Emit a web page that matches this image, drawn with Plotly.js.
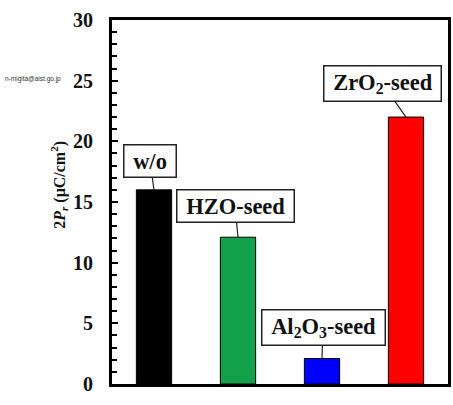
<!DOCTYPE html>
<html><head><meta charset="utf-8">
<script src="https://cdn.plot.ly/plotly-3.0.1.min.js"></script>
<style>html,body{margin:0;padding:0;background:#fff}#c{width:453px;height:405px}</style>
</head><body><div id="c"></div>
<script>
const categories = ["w/o", "HZO-seed", "Al2O3-seed", "ZrO2-seed"];
const values = [16.0, 12.1, 2.1, 22.0];
const colors = ["#000000", "#12a04a", "#0000ff", "#ff0000"];
const labels = ["w/o", "HZO-seed", "Al<sub>2</sub>O<sub>3</sub>-seed", "ZrO<sub>2</sub>-seed"];
const labelOffsets = [[-4, -29], [-3, -31], [1, -31], [-24, -34]];
const yTicks = [0, 5, 10, 15, 20, 25, 30];
const yTitle = "<b>2<i>P</i><sub><i>r</i></sub> (μC/cm<sup>2</sup>)</b>";

const font = "Liberation Serif, Times New Roman, serif";
const trace = {
  type: "bar", x: categories, y: values,
  marker: {color: colors, line: {color: "#000", width: 1}},
  width: 0.42, hoverinfo: "none"
};
const annotations = categories.map((c, i) => ({
  x: c, y: values[i], xref: "x", yref: "y",
  text: "<b>&nbsp;" + labels[i] + "&nbsp;</b>",
  showarrow: true, arrowhead: 0, arrowwidth: 1.2, arrowcolor: "#222",
  ax: labelOffsets[i][0], ay: labelOffsets[i][1],
  font: {family: font, size: 22.5, color: "#111"},
  bordercolor: "#222", borderwidth: 1.5, borderpad: 3, bgcolor: "#fff"
}));
annotations.push({
  xref: "paper", yref: "paper", x: -0.158, y: 0.547, xanchor: "center", yanchor: "middle",
  text: yTitle, textangle: -90, showarrow: false,
  font: {family: font, size: 16, color: "#111"}
});
annotations.push({
  xref: "paper", yref: "paper", x: -0.235, y: 0.838, xanchor: "center", yanchor: "middle",
  text: "n-migita@aist.go.jp", showarrow: false,
  font: {family: "Liberation Sans, Arial, sans-serif", size: 6.5, color: "#333"}
});
const layout = {
  width: 453, height: 405,
  margin: {l: 112, r: 5, t: 20, b: 21},
  paper_bgcolor: "#fff", plot_bgcolor: "#fff",
  showlegend: false,
  bargap: 0.58,
  xaxis: {
    showticklabels: false, ticks: "", showgrid: false, zeroline: false,
    showline: true, linecolor: "#000", linewidth: 3, mirror: true
  },
  yaxis: {
    range: [0, 30], tickvals: yTicks, ticktext: yTicks.map(String),
    ticks: "inside", ticklen: 6, tickwidth: 2, tickcolor: "#000",
    minor: {dtick: 1, tick0: 0, ticks: "inside", ticklen: 5, tickwidth: 2, tickcolor: "#000", showgrid: false},
    showgrid: false, zeroline: false,
    showline: true, linecolor: "#000", linewidth: 3, mirror: true,
    ticklabelstandoff: 12,
    tickfont: {family: font, size: 20, color: "#111", weight: "bold"}
  },
  annotations: annotations
};
Plotly.newPlot("c", [trace], layout, {displayModeBar: false, staticPlot: true});
</script></body></html>
